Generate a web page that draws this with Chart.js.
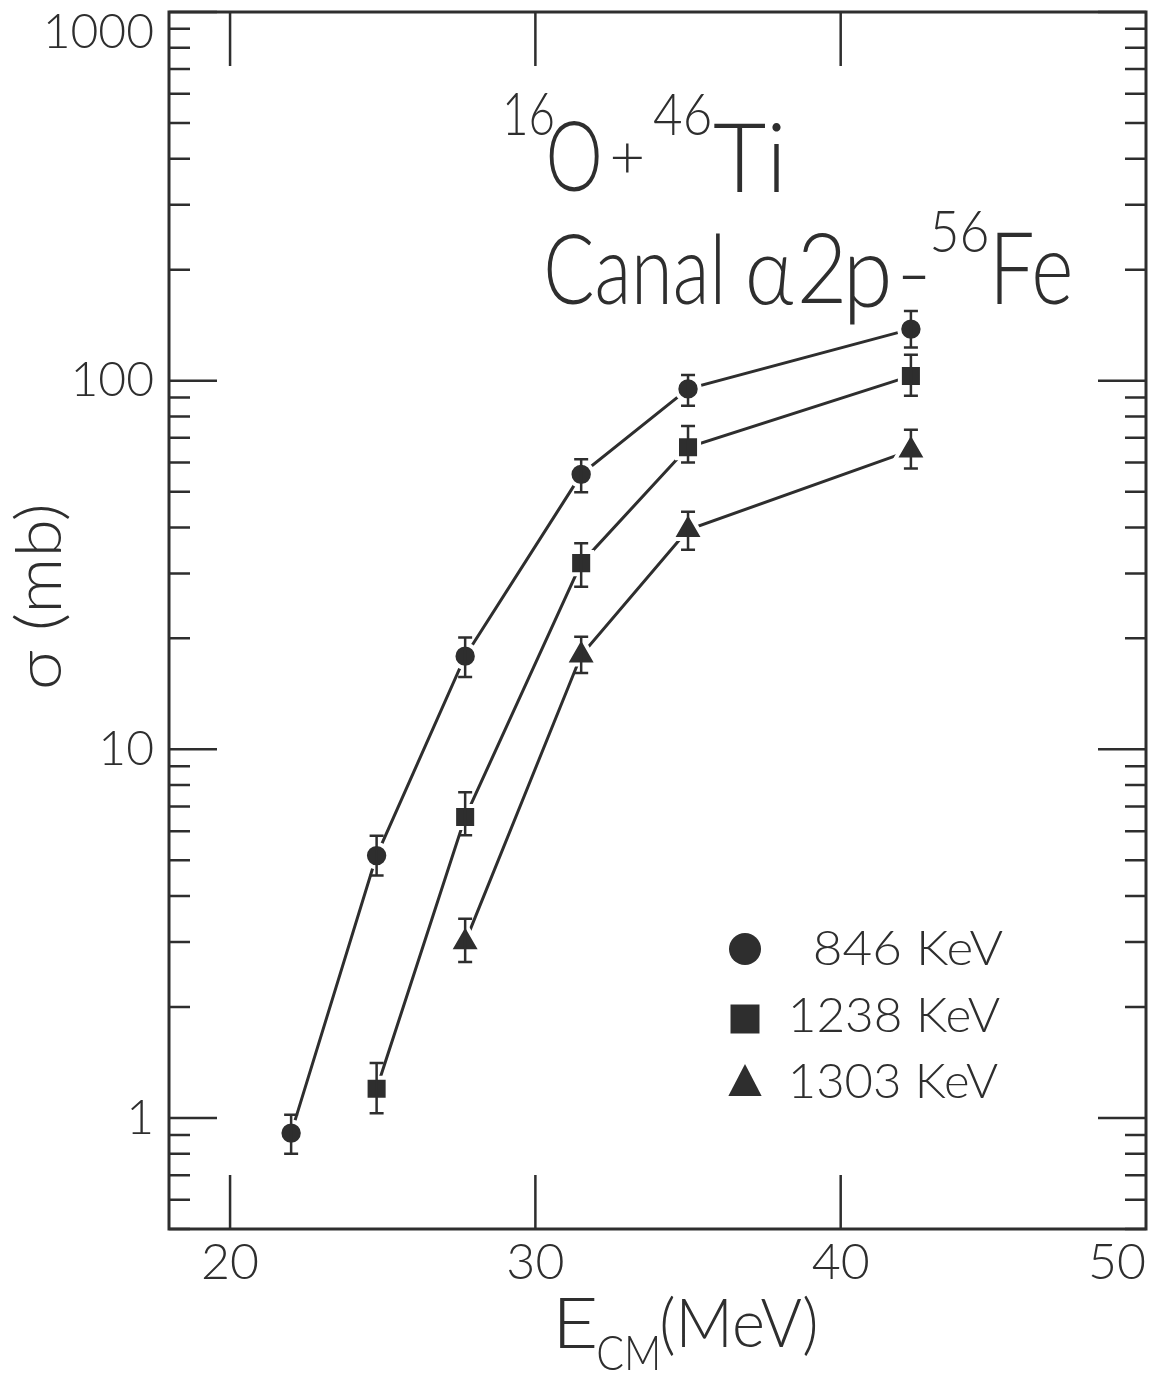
<!DOCTYPE html>
<html>
<head>
<meta charset="utf-8">
<title>16O + 46Ti, canal α2p - 56Fe</title>
<script src="https://cdn.jsdelivr.net/npm/chart.js@4.4.1/dist/chart.umd.min.js"></script>
<style>
  html, body { margin: 0; padding: 0; background: #ffffff; overflow: hidden; }
  #wrap { width: 1151px; height: 1375px; position: relative; }
</style>
</head>
<body>
<div id="wrap"><canvas id="chart"></canvas></div>
<script>
// Centre-of-mass energies (MeV)
const energies846  = [22.0, 24.8, 27.7, 31.5, 35.0, 42.3];
const energies1238 = [24.8, 27.7, 31.5, 35.0, 42.3];
const energies1303 = [27.7, 31.5, 35.0, 42.3];

// Cross sections (mb) and error-bar limits per gamma line
const sigma846    = [0.91, 5.15, 17.9, 55.7, 95.0, 138];
const err846Low   = [0.80, 4.55, 15.7, 49.8, 85.5, 123];
const err846High  = [1.02, 5.83, 20.1, 61.2, 103.6, 154.5];

const sigma1238   = [1.20, 6.55, 32.0, 66.0, 103];
const err1238Low  = [1.03, 5.85, 27.6, 60.0, 91.0];
const err1238High = [1.41, 7.65, 36.2, 75.3, 117.5];

const sigma1303   = [3.00, 18.0, 39.4, 64.7];
const err1303Low  = [2.65, 16.1, 34.8, 57.8];
const err1303High = [3.47, 20.2, 44.1, 73.6];

const seriesLabels = ['846 KeV', '1238 KeV', '1303 KeV'];
const seriesStyles = ['circle', 'rect', 'triangle'];

// Axis ticks
const xTickValues = [20, 30, 40, 50];
const yDecades = [1, 10, 100, 1000];

const INK = '#2e2e2e';
const FONT = 'Lato, "Open Sans", "DejaVu Sans", sans-serif';

// every 1..9 x 10^n inside the y range, for the log minor ticks
function logTicks(min, max) {
  const out = [];
  for (let e = -1; e <= 3; e++) {
    for (let k = 1; k <= 9; k++) {
      const v = +(k * Math.pow(10, e)).toPrecision(6);
      if (v >= min && v <= max) out.push(v);
    }
  }
  return out;
}

function makeSeries(label, xs, ys, lo, hi, style, radius) {
  return {
    label: label,
    data: xs.map((x, i) => ({ x: x, y: ys[i] })),
    errLow: lo,
    errHigh: hi,
    showLine: true,
    borderColor: INK,
    borderWidth: 3,
    backgroundColor: INK,
    pointStyle: style,
    pointRadius: radius,
    pointHoverRadius: radius,
    pointBackgroundColor: INK,
    pointBorderColor: '#ffffff',
    pointBorderWidth: 4,
    tension: 0
  };
}

// Draw a string so its ink fills the box [x0,x1] x [y0,y1]
function fitBox(ctx, text, size, x0, x1, y0, y1) {
  ctx.font = '300 ' + size + 'px ' + FONT;
  ctx.textAlign = 'left';
  ctx.textBaseline = 'alphabetic';
  const m = ctx.measureText(text);
  const inkW = m.actualBoundingBoxLeft + m.actualBoundingBoxRight;
  const inkH = m.actualBoundingBoxAscent + m.actualBoundingBoxDescent;
  const sx = (x1 - x0) / inkW;
  const sy = (y1 - y0) / inkH;
  ctx.save();
  ctx.translate(x0 + m.actualBoundingBoxLeft * sx, y0 + m.actualBoundingBoxAscent * sy);
  ctx.scale(sx, sy);
  ctx.fillText(text, 0, 0);
  ctx.restore();
}

// Frame with inward ticks on all four sides
const frameTicks = {
  id: 'frameTicks',
  beforeDatasetsDraw(chart) {
    const { ctx, chartArea: a, scales: { x, y } } = chart;
    ctx.save();
    ctx.strokeStyle = INK;
    ctx.lineWidth = 3;
    ctx.strokeRect(a.left, a.top, a.right - a.left, a.bottom - a.top);
    ctx.lineWidth = 2.5;
    ctx.beginPath();
    y.ticks.forEach(t => {
      const py = y.getPixelForValue(t.value);
      const len = yDecades.includes(t.value) ? 48 : 21;
      ctx.moveTo(a.left, py);  ctx.lineTo(a.left + len, py);
      ctx.moveTo(a.right, py); ctx.lineTo(a.right - len, py);
    });
    xTickValues.filter(v => v > x.min && v < x.max).forEach(v => {
      const px = x.getPixelForValue(v);
      ctx.moveTo(px, a.bottom); ctx.lineTo(px, a.bottom - 54);
      ctx.moveTo(px, a.top);    ctx.lineTo(px, a.top + 54);
    });
    ctx.stroke();
    ctx.restore();
  }
};

// Vertical error bars with caps
const errorBars = {
  id: 'errorBars',
  afterDatasetsDraw(chart) {
    const { ctx, scales: { x, y } } = chart;
    ctx.save();
    ctx.strokeStyle = INK;
    ctx.lineWidth = 2.5;
    chart.data.datasets.forEach(ds => {
      ds.data.forEach((p, i) => {
        const px = x.getPixelForValue(p.x);
        const yl = y.getPixelForValue(ds.errLow[i]);
        const yh = y.getPixelForValue(ds.errHigh[i]);
        ctx.beginPath();
        ctx.moveTo(px, yl); ctx.lineTo(px, yh);
        ctx.moveTo(px - 7, yl); ctx.lineTo(px + 7, yl);
        ctx.moveTo(px - 7, yh); ctx.lineTo(px + 7, yh);
        ctx.stroke();
      });
    });
    ctx.restore();
  }
};

function drawMarker(ctx, style, cx, cy, size) {
  ctx.beginPath();
  if (style === 'circle') {
    ctx.arc(cx, cy, size / 2, 0, Math.PI * 2);
  } else if (style === 'rect') {
    ctx.rect(cx - size / 2, cy - size / 2, size, size);
  } else {
    ctx.moveTo(cx, cy - size / 2);
    ctx.lineTo(cx + size * 0.52, cy + size / 2);
    ctx.lineTo(cx - size * 0.52, cy + size / 2);
    ctx.closePath();
  }
  ctx.fill();
}

// Reaction label, axis titles and legend
const annotations = {
  id: 'annotations',
  afterDraw(chart) {
    const ctx = chart.ctx;
    ctx.save();
    ctx.fillStyle = INK;

    // 16O + 46Ti
    fitBox(ctx, '16', 58, 506, 553, 93, 135);
    fitBox(ctx, 'O', 100, 549, 599, 121, 192);
    fitBox(ctx, '+', 72, 613, 642, 143, 173);
    fitBox(ctx, '46', 58, 654, 710, 95, 135);
    fitBox(ctx, 'Ti', 100, 714, 781, 123, 192);

    // Canal α2p - 56Fe
    fitBox(ctx, 'Canal', 100, 547, 720, 232, 305);
    fitBox(ctx, 'α', 100, 749, 793, 256, 305);
    fitBox(ctx, '2', 100, 801, 842, 232, 303);
    fitBox(ctx, 'p', 100, 850, 888, 256, 325);
    fitBox(ctx, '-', 100, 902, 926, 275, 279);
    fitBox(ctx, '56', 58, 933, 987, 212, 252);
    fitBox(ctx, 'Fe', 100, 997, 1070, 232, 305);

    // x title: E_CM(MeV)
    fitBox(ctx, 'E', 69, 560, 595, 1298, 1348);
    fitBox(ctx, 'CM', 46, 598, 657, 1337, 1370);
    fitBox(ctx, '(MeV)', 69, 662, 815, 1295, 1357);

    // y title, rotated
    ctx.save();
    ctx.rotate(-Math.PI / 2);
    fitBox(ctx, 'σ (mb)', 64, -687, -507, 13, 70);
    ctx.restore();

    // legend
    const rows = [
      { cy: 949, size: 32, tx0: 815, tx1: 1003, ty0: 932, ty1: 965 },
      { cy: 1019, size: 29, tx0: 792, tx1: 1000, ty0: 999, ty1: 1032 },
      { cy: 1080, size: 32, tx0: 792, tx1: 998, ty0: 1065, ty1: 1098 }
    ];
    chart.data.datasets.forEach((ds, i) => {
      const r = rows[i];
      drawMarker(ctx, ds.pointStyle, 745, r.cy, r.size);
      fitBox(ctx, ds.label, 46, r.tx0, r.tx1, r.ty0, r.ty1);
    });
    ctx.restore();
  }
};

const yTickList = logTicks(0.5, 1000);

new Chart(document.getElementById('chart'), {
  type: 'scatter',
  data: {
    datasets: [
      makeSeries(seriesLabels[0], energies846, sigma846, err846Low, err846High, seriesStyles[0], 11.7),
      makeSeries(seriesLabels[1], energies1238, sigma1238, err1238Low, err1238High, seriesStyles[1], 15.6),
      makeSeries(seriesLabels[2], energies1303, sigma1303, err1303Low, err1303High, seriesStyles[2], 18.4)
    ]
  },
  options: {
    responsive: true,
    maintainAspectRatio: false,
    animation: false,
    devicePixelRatio: 1,
    layout: { autoPadding: false, padding: { top: 12, right: 5, left: 0, bottom: 0 } },
    plugins: {
      legend: { display: false },
      tooltip: { enabled: false },
      title: { display: false }
    },
    scales: {
      x: {
        type: 'linear',
        min: 18,
        max: 50,
        afterBuildTicks: s => { s.ticks = [s.min].concat(xTickValues).map(v => ({ value: v })); },
        afterFit: s => { s.height = 146; s.paddingLeft = 0; s.paddingRight = 0; },
        ticks: {
          align: 'inner',
          autoSkip: false,
          maxRotation: 0,
          padding: -4,
          color: INK,
          font: { family: FONT, size: 50, weight: 300 },
          callback: v => xTickValues.includes(v) ? String(v) : ''
        },
        grid: { display: false },
        border: { display: false }
      },
      y: {
        type: 'logarithmic',
        min: 0.5,
        max: 1000,
        afterBuildTicks: s => { s.ticks = yTickList.map(v => ({ value: v })); },
        afterFit: s => { s.width = 169; s.paddingTop = 0; s.paddingBottom = 0; },
        ticks: {
          autoSkip: false,
          padding: 7,
          color: INK,
          font: { family: FONT, size: 48, weight: 300, lineHeight: 0.85 },
          callback: v => v === 1000 ? ['', '1000'] : (yDecades.includes(v) ? String(v) : '')
        },
        grid: { display: false },
        border: { display: false }
      }
    }
  },
  plugins: [frameTicks, errorBars, annotations]
});
</script>
</body>
</html>
